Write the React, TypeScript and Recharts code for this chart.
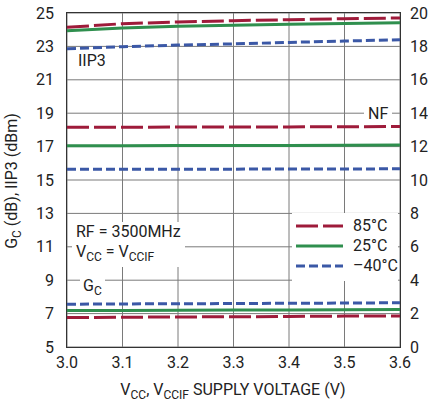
import React from 'react'
import { LineChart, Line, XAxis, YAxis, CartesianGrid } from 'recharts'

// supply voltage (V)
const voltage = [3.0, 3.1, 3.2, 3.3, 3.4, 3.5, 3.6]

// IIP3 (dBm), left axis
const iip3_85 = [24.14, 24.36, 24.46, 24.54, 24.6, 24.66, 24.7]
const iip3_25 = [23.94, 24.1, 24.2, 24.26, 24.32, 24.37, 24.42]
const iip3_m40 = [22.86, 22.98, 23.08, 23.15, 23.24, 23.32, 23.4]

// NF (dB), right axis
const nf_85 = [13.16, 13.16, 13.17, 13.18, 13.18, 13.19, 13.2]
const nf_25 = [12.05, 12.05, 12.06, 12.06, 12.07, 12.08, 12.1]
const nf_m40 = [10.64, 10.64, 10.65, 10.65, 10.66, 10.66, 10.67]

// conversion gain (dB), left axis
const gc_85 = [6.76, 6.78, 6.8, 6.81, 6.83, 6.85, 6.86]
const gc_25 = [7.18, 7.19, 7.2, 7.21, 7.22, 7.23, 7.24]
const gc_m40 = [7.56, 7.58, 7.59, 7.6, 7.62, 7.63, 7.65]

const xTicks = [3.0, 3.1, 3.2, 3.3, 3.4, 3.5, 3.6]
const leftTicks = [5, 7, 9, 11, 13, 15, 17, 19, 21, 23, 25]
const rightTicks = [0, 2, 4, 6, 8, 10, 12, 14, 16, 18, 20]

const data = voltage.map((v, i) => ({
  v,
  iip3_85: iip3_85[i],
  iip3_25: iip3_25[i],
  iip3_m40: iip3_m40[i],
  nf_85: nf_85[i],
  nf_25: nf_25[i],
  nf_m40: nf_m40[i],
  gc_85: gc_85[i],
  gc_25: gc_25[i],
  gc_m40: gc_m40[i],
}))

const RED = '#9e1b3a'
const GREEN = '#2f8f4e'
const BLUE = '#3b58a6'
const FONT = 'Roboto, "Liberation Sans", sans-serif'

const red = { stroke: RED, strokeWidth: 3, strokeDasharray: '22 5' }
const green = { stroke: GREEN, strokeWidth: 3 }
const blue = { stroke: BLUE, strokeWidth: 3, strokeDasharray: '9 4' }

const tick = { fill: '#222', fontSize: 16, fontFamily: FONT }

const Sub = ({ children }: { children: React.ReactNode }) => (
  <span style={{ fontSize: 12, position: 'relative', top: 4 }}>{children}</span>
)

const label: React.CSSProperties = {
  position: 'absolute',
  background: '#fff',
  fontFamily: FONT,
  fontSize: 16,
  color: '#222',
  lineHeight: '20px',
  whiteSpace: 'nowrap',
}

export default function App() {
  return (
    <div style={{ position: 'absolute', left: 0, top: 0, width: 428, height: 404, background: '#fff' }}>
      <LineChart width={428} height={404} data={data} margin={{ top: 13, right: 0, bottom: 0, left: 0 }}>
        <CartesianGrid yAxisId="left" stroke="#7a7a7a" strokeWidth={1} />
        <XAxis
          dataKey="v"
          type="number"
          domain={[3.0, 3.6]}
          ticks={xTicks}
          tickFormatter={(t: number) => t.toFixed(1)}
          height={57}
          tickLine={false}
          axisLine={false}
          tickMargin={4}
          tick={tick}
        />
        <YAxis
          yAxisId="left"
          domain={[5, 25]}
          ticks={leftTicks}
          width={67}
          tickLine={false}
          axisLine={false}
          tickMargin={7}
          tick={tick}
        />
        <YAxis
          yAxisId="right"
          orientation="right"
          domain={[0, 20]}
          ticks={rightTicks}
          width={28}
          tickLine={false}
          axisLine={false}
          tickMargin={4}
          tick={{ ...tick, textAnchor: 'start' }}
        />
        <Line yAxisId="left" dataKey="iip3_85" dot={false} isAnimationActive={false} {...red} />
        <Line yAxisId="left" dataKey="iip3_25" dot={false} isAnimationActive={false} {...green} />
        <Line yAxisId="left" dataKey="iip3_m40" dot={false} isAnimationActive={false} {...blue} />
        <Line yAxisId="right" dataKey="nf_85" dot={false} isAnimationActive={false} {...red} />
        <Line yAxisId="right" dataKey="nf_25" dot={false} isAnimationActive={false} {...green} />
        <Line yAxisId="right" dataKey="nf_m40" dot={false} isAnimationActive={false} {...blue} />
        <Line yAxisId="left" dataKey="gc_85" dot={false} isAnimationActive={false} {...red} />
        <Line yAxisId="left" dataKey="gc_25" dot={false} isAnimationActive={false} {...green} />
        <Line yAxisId="left" dataKey="gc_m40" dot={false} isAnimationActive={false} {...blue} />
      </LineChart>

      {/* plot frame */}
      <div
        style={{
          position: 'absolute',
          left: 66,
          top: 12,
          width: 333,
          height: 334,
          border: '1.5px solid #333',
          pointerEvents: 'none',
        }}
      />

      {/* annotations */}
      <div style={{ ...label, left: 78, top: 51, background: 'transparent' }}>IIP3</div>
      <div style={{ ...label, left: 364, top: 104, padding: '0 4px' }}>NF</div>
      <div style={{ ...label, left: 72, top: 222, padding: '0 4px 4px 4px' }}>
        <div>RF = 3500MHz</div>
        <div>
          V<Sub>CC</Sub> = V<Sub>CCIF</Sub>
        </div>
      </div>
      <div style={{ ...label, left: 80, top: 276, padding: '0 3px 4px 3px' }}>
        G<Sub>C</Sub>
      </div>

      {/* legend */}
      <div style={{ ...label, left: 292, top: 213, width: 106, height: 68, padding: 0 }}>
        {[
          { s: red, t: '85°C' },
          { s: green, t: '25°C' },
          { s: blue, t: '–40°C' },
        ].map((it, i) => (
          <div key={i} style={{ position: 'absolute', left: 4, top: 3 + i * 20, height: 20, display: 'flex', alignItems: 'center' }}>
            <svg width={48} height={20}>
              <line x1={0} x2={47} y1={10} y2={10} stroke={it.s.stroke} strokeWidth={3} strokeDasharray={(it.s as any).strokeDasharray} />
            </svg>
            <span style={{ marginLeft: 9 }}>{it.t}</span>
          </div>
        ))}
      </div>

      {/* axis titles */}
      <div
        style={{
          ...label,
          background: 'transparent',
          left: 233,
          top: 380,
          transform: 'translateX(-50%)',
        }}
      >
        V<Sub>CC</Sub>, V<Sub>CCIF</Sub> SUPPLY VOLTAGE (V)
      </div>
      <div
        style={{
          ...label,
          background: 'transparent',
          left: 12,
          top: 181,
          transform: 'translate(-50%, -50%) rotate(-90deg)',
        }}
      >
        G<Sub>C</Sub> (dB), IIP3 (dBm)
      </div>
    </div>
  )
}
